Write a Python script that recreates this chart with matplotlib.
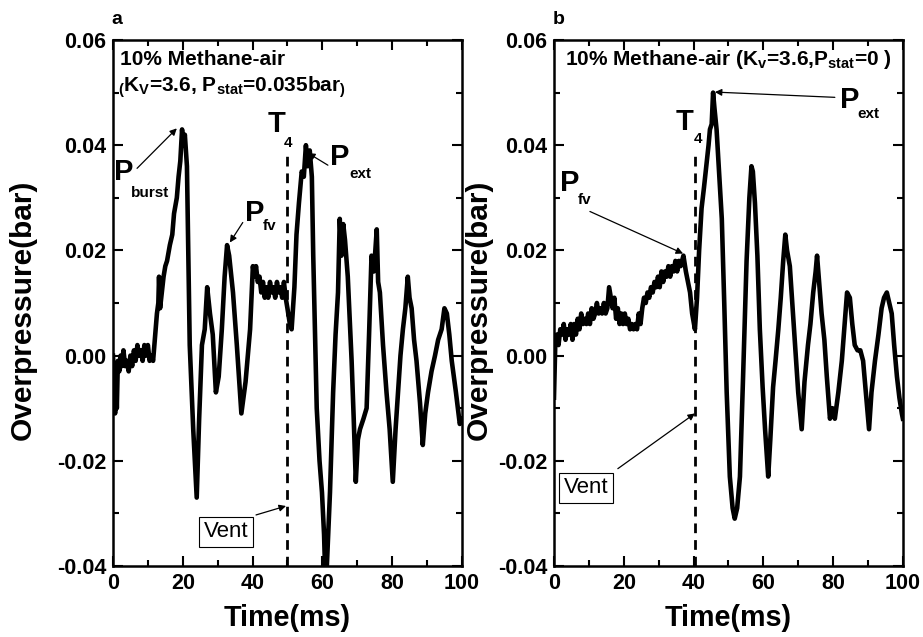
import numpy as np
import matplotlib
matplotlib.use('Agg')
import matplotlib.pyplot as plt
from matplotlib.ticker import MultipleLocator

plt.rcParams['font.family'] = ['Liberation Sans', 'DejaVu Sans']
plt.rcParams['font.weight'] = 'bold'
plt.rcParams['mathtext.fontset'] = 'custom'
plt.rcParams['mathtext.rm'] = 'Liberation Sans:bold'
plt.rcParams['mathtext.it'] = 'Liberation Sans:bold'
plt.rcParams['mathtext.bf'] = 'Liberation Sans:bold'

# panel a : Kv=3.6, Pstat=0.035 bar
time_a = [0, 0.3, 0.6, 0.9, 1.1, 1.4, 1.8, 2.2, 2.6, 3.0, 3.5, 4.0, 4.5, 5.0, 5.5, 6.0,
          6.5, 7.0, 7.5, 8.0, 8.5, 9.0, 9.5, 10.0, 10.5, 11.0, 11.5, 12.0, 12.6, 13.0,
          13.2, 13.5, 14.0, 14.5, 15.0, 15.5, 16.3, 17.0, 17.5, 18.3, 18.8, 19.3, 19.8,
          20.2, 20.6, 21.2, 22.0, 23.0, 24.0, 24.7, 25.5, 26.3, 27.0, 27.8, 28.6, 29.5,
          30.3, 31.2, 32.0, 32.7, 33.3, 34.4, 35.5, 36.8, 38.0, 39.3, 40.1, 40.5, 41.0,
          41.5, 42.0, 42.5, 43.0, 43.5, 44.0, 44.5, 45.0, 45.5, 46.0, 46.5, 47.0, 47.5,
          48.0, 48.5, 49.0, 49.5, 50.0, 50.7, 51.2, 52.0, 52.6, 53.3, 54.1, 54.7, 55.3,
          55.8, 56.4, 57.0, 57.4, 58.4, 59.2, 59.9, 60.5, 60.8, 61.3, 62.2, 63.1, 63.8,
          64.5, 65.0, 65.5, 66.0, 66.5, 67.3, 68.4, 69.0, 69.6, 70.2, 70.8, 71.8, 72.7,
          73.4, 74.1, 74.8, 75.6, 76.0, 76.5, 77.4, 78.4, 79.3, 80.2, 81.0, 81.7, 82.4,
          83.1, 83.8, 84.5, 85.0, 85.6, 86.3, 87.0, 88.0, 88.8, 89.5, 90.3, 91.3, 92.3,
          93.2, 94.2, 95.0, 95.7, 96.4, 97.1, 98.3, 99.4, 100]
pres_a = [0.000, -0.004, -0.011, -0.003, -0.010, -0.001, -0.003, 0.000, -0.002, 0.001,
          -0.002, -0.001, -0.003, 0.000, -0.002, 0.001, -0.001, 0.002, 0.000, 0.001,
          -0.001, 0.002, 0.000, 0.002, -0.001, 0.000, -0.001, 0.003, 0.008, 0.010,
          0.015, 0.009, 0.012, 0.015, 0.017, 0.018, 0.021, 0.023, 0.027, 0.030, 0.034,
          0.037, 0.043, 0.040, 0.042, 0.036, 0.002, -0.014, -0.027, -0.012, 0.002, 0.005,
          0.013, 0.008, 0.004, -0.007, -0.004, 0.005, 0.015, 0.021, 0.019, 0.012, 0.002,
          -0.011, -0.005, 0.005, 0.017, 0.015, 0.017, 0.014, 0.015, 0.012, 0.014, 0.011,
          0.013, 0.011, 0.014, 0.012, 0.013, 0.011, 0.014, 0.012, 0.013, 0.011, 0.014,
          0.011, 0.009, 0.006, 0.005, 0.013, 0.023, 0.029, 0.035, 0.034, 0.040, 0.036,
          0.039, 0.034, 0.019, -0.010, -0.020, -0.026, -0.034, -0.041, -0.040, -0.026,
          -0.007, 0.004, 0.012, 0.026, 0.019, 0.025, 0.022, 0.015, -0.001, -0.012, -0.024,
          -0.016, -0.014, -0.012, -0.010, 0.004, 0.019, 0.016, 0.024, 0.014, 0.012, 0.002,
          -0.007, -0.014, -0.024, -0.014, -0.007, 0.000, 0.005, 0.009, 0.015, 0.011, 0.009,
          0.003, -0.001, -0.009, -0.017, -0.011, -0.007, -0.003, 0.000, 0.003, 0.005,
          0.009, 0.008, 0.004, -0.001, -0.007, -0.013, -0.012]

# panel b : Kv=3.6, Pstat=0
time_b = [0, 0.4, 0.8, 1.3, 1.8, 2.3, 2.8, 3.3, 3.8, 4.3, 4.8, 5.3, 5.8, 6.3, 6.8, 7.3,
          7.8, 8.3, 8.8, 9.3, 9.8, 10.3, 10.8, 11.3, 11.8, 12.3, 12.8, 13.3, 13.8, 14.3,
          14.8, 15.3, 15.8, 16.3, 16.8, 17.3, 17.8, 18.3, 18.8, 19.3, 19.8, 20.3, 20.8,
          21.3, 21.8, 22.3, 22.8, 23.3, 23.8, 24.3, 24.8, 25.3, 25.8, 26.3, 26.8, 27.3,
          27.8, 28.3, 28.8, 29.3, 29.8, 30.3, 30.8, 31.3, 31.8, 32.3, 32.8, 33.3, 33.8,
          34.3, 34.8, 35.3, 35.8, 36.3, 37.1, 37.8, 38.4, 39.0, 39.6, 40.4, 41.0, 41.6,
          42.3, 43.0, 43.8, 44.3, 44.7, 45.2, 45.6, 46.0, 46.6, 47.3, 48.1, 48.8, 49.5,
          50.4, 51.2, 51.8, 52.5, 53.3, 54.2, 55.2, 56.0, 56.6, 57.0, 57.6, 58.3, 59.0,
          59.8, 60.5, 61.4, 62.0, 62.8, 63.5, 64.3, 65.0, 65.7, 66.3, 66.8, 67.6, 68.3,
          69.1, 70.0, 71.0, 71.8, 72.8, 73.5, 74.3, 75.0, 75.4, 76.0, 76.7, 77.5, 78.2,
          79.1, 79.8, 80.5, 81.5, 82.5, 83.3, 84.0, 84.8, 85.5, 86.2, 87.0, 87.8, 88.6,
          89.5, 90.3, 91.0, 92.0, 93.0, 93.9, 94.6, 95.4, 96.1, 96.8, 97.5, 98.3, 99.0,
          99.7, 100]
pres_b = [-0.008, 0.003, 0.004, 0.002, 0.005, 0.004, 0.006, 0.003, 0.005, 0.004, 0.006,
          0.003, 0.006, 0.004, 0.007, 0.005, 0.008, 0.006, 0.007, 0.006, 0.008, 0.006,
          0.009, 0.007, 0.008, 0.010, 0.008, 0.009, 0.008, 0.010, 0.008, 0.009, 0.013,
          0.011, 0.009, 0.011, 0.007, 0.009, 0.006, 0.008, 0.006, 0.008, 0.006, 0.007,
          0.005, 0.006, 0.005, 0.006, 0.005, 0.008, 0.006, 0.009, 0.011, 0.010, 0.012,
          0.011, 0.013, 0.012, 0.014, 0.013, 0.015, 0.013, 0.016, 0.014, 0.016, 0.015,
          0.017, 0.015, 0.017, 0.016, 0.018, 0.016, 0.018, 0.017, 0.019, 0.016, 0.014,
          0.012, 0.008, 0.005, 0.011, 0.020, 0.028, 0.032, 0.037, 0.040, 0.043, 0.044,
          0.050, 0.047, 0.043, 0.035, 0.026, 0.010, -0.007, -0.023, -0.029, -0.031,
          -0.029, -0.023, -0.004, 0.018, 0.030, 0.036, 0.035, 0.029, 0.019, 0.005, -0.006,
          -0.014, -0.023, -0.016, -0.006, -0.001, 0.005, 0.011, 0.018, 0.023, 0.020,
          0.017, 0.010, 0.002, -0.007, -0.014, -0.005, 0.002, 0.006, 0.012, 0.016, 0.019,
          0.014, 0.008, 0.003, -0.004, -0.012, -0.010, -0.012, -0.007, -0.001, 0.006,
          0.012, 0.011, 0.006, 0.002, 0.001, 0.001, -0.001, -0.008, -0.014, -0.007, -0.001,
          0.004, 0.009, 0.011, 0.012, 0.010, 0.008, 0.002, -0.004, -0.008, -0.011, -0.012]

vent_time = [50, 40.4]

fig = plt.figure(figsize=(9.23, 6.37), dpi=100)
ax_a = fig.add_axes([0.1224, 0.1115, 0.378, 0.8257])
ax_b = fig.add_axes([0.6002, 0.1115, 0.378, 0.8257])

arrow = dict(arrowstyle='-|>', lw=0.9, color='k', mutation_scale=10, shrinkA=0, shrinkB=0)

for ax, t, p, tv in [(ax_a, time_a, pres_a, vent_time[0]), (ax_b, time_b, pres_b, vent_time[1])]:
    ax.plot(t, p, color='k', lw=3.3, solid_joinstyle='round')
    ax.plot([tv, tv], [-0.04, 0.039], color='k', lw=2.0, ls=(0, (3.5, 2.5)))
    ax.set_xlim(0, 100)
    ax.xaxis.set_major_locator(MultipleLocator(20))
    ax.xaxis.set_minor_locator(MultipleLocator(10))
    ax.set_yticks([-0.04, -0.02, 0.0, 0.02, 0.04, 0.06])
    ax.set_yticklabels(['-0.04', '-0.02', '0.00', '0.02', '0.04', '0.06'])
    ax.yaxis.set_minor_locator(MultipleLocator(0.01))
    ax.set_ylim(-0.04, 0.06)
    ax.tick_params(which='both', direction='in', top=True, right=True, width=1.5, labelsize=15.5)
    ax.tick_params(which='major', length=7, pad=5)
    ax.tick_params(which='minor', length=4)
    for s in ax.spines.values():
        s.set_linewidth(1.8)
    ax.set_xlabel('Time(ms)', fontsize=20.7, fontweight='bold', labelpad=7)
    ax.set_ylabel('Overpressure(bar)', fontsize=21.5, fontweight='bold')

ax_a.yaxis.set_label_coords(-0.218, 0.487)
ax_b.yaxis.set_label_coords(-0.175, 0.487)

# panel a texts
ax_a.text(2.0, 0.0563, '10% Methane-air', fontsize=15, va='center', ha='left')
ax_a.text(1.5, 0.0510, r'$_($K$_V$=3.6, P$_{stat}$=0.035bar$_)$', fontsize=15, va='center', ha='left')
ax_a.text(0.3, 0.0349, 'P', fontsize=21, va='center', ha='left')
ax_a.text(5.2, 0.0310, 'burst', fontsize=11, va='center', ha='left')
ax_a.text(37.8, 0.0272, 'P', fontsize=21, va='center', ha='left')
ax_a.text(43.0, 0.0246, 'fv', fontsize=11, va='center', ha='left')
ax_a.text(62.2, 0.0377, 'P', fontsize=21, va='center', ha='left')
ax_a.text(67.9, 0.0345, 'ext', fontsize=11, va='center', ha='left')
ax_a.text(44.2, 0.0440, 'T', fontsize=21, va='center', ha='left')
ax_a.text(49.0, 0.0404, '4', fontsize=11, va='center', ha='left')
ax_a.text(32.4, -0.0335, 'Vent', fontsize=16, fontweight='normal', va='center', ha='center',
          bbox=dict(boxstyle='square,pad=0.2', fc='white', ec='k', lw=0.8))
ax_a.annotate('', xy=(18.3, 0.0432), xytext=(6.9, 0.0356), arrowprops=arrow)
ax_a.annotate('', xy=(33.5, 0.0215), xytext=(37.2, 0.0253), arrowprops=arrow)
ax_a.annotate('', xy=(55.9, 0.0385), xytext=(61.6, 0.0362), arrowprops=arrow)
ax_a.annotate('', xy=(49.6, -0.0286), xytext=(41.0, -0.0303), arrowprops=arrow)

# panel b texts
ax_b.text(3.2, 0.0562, r'10% Methane-air (K$_v$=3.6,P$_{stat}$=0 )', fontsize=15, va='center', ha='left')
ax_b.text(82.0, 0.0486, 'P', fontsize=21, va='center', ha='left')
ax_b.text(87.1, 0.0459, 'ext', fontsize=11, va='center', ha='left')
ax_b.text(1.7, 0.0328, 'P', fontsize=21, va='center', ha='left')
ax_b.text(6.9, 0.0295, 'fv', fontsize=11, va='center', ha='left')
ax_b.text(35.0, 0.0444, 'T', fontsize=21, va='center', ha='left')
ax_b.text(40.0, 0.0411, '4', fontsize=11, va='center', ha='left')
ax_b.text(9.2, -0.0251, 'Vent', fontsize=16, fontweight='normal', va='center', ha='center',
          bbox=dict(boxstyle='square,pad=0.2', fc='white', ec='k', lw=0.8))
ax_b.annotate('', xy=(46.1, 0.0501), xytext=(80.5, 0.0491), arrowprops=arrow)
ax_b.annotate('', xy=(37.0, 0.0194), xytext=(10.3, 0.0274), arrowprops=arrow)
ax_b.annotate('', xy=(40.4, -0.0110), xytext=(18.3, -0.0215), arrowprops=arrow)

fig.text(0.121, 0.970, 'a', fontsize=14, va='center', ha='left')
fig.text(0.599, 0.970, 'b', fontsize=14, va='center', ha='left')

fig.savefig('out.png', dpi=100)
